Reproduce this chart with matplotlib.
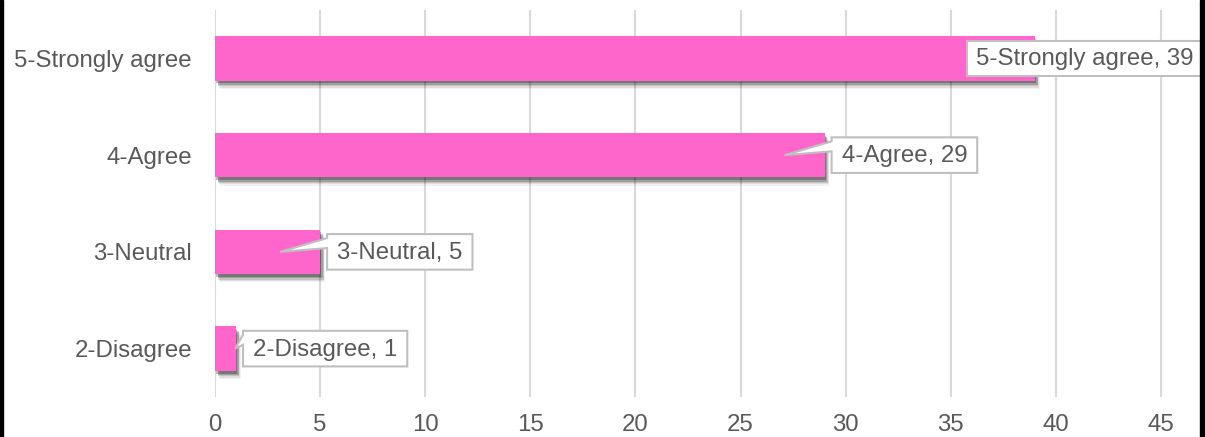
import matplotlib
matplotlib.use("Agg")
import matplotlib.pyplot as plt
from matplotlib.patches import Rectangle, Polygon
from matplotlib.transforms import IdentityTransform
import matplotlib.patheffects as pe

categories = ["2-Disagree", "3-Neutral", "4-Agree", "5-Strongly agree"]
values = [1, 5, 29, 39]
xticks = [0, 5, 10, 15, 20, 25, 30, 35, 40, 45]

BAR = "#FF66CC"
TXT = "#595959"
GRID = "#D9D9D9"
BOXEDGE = "#BFBFBF"

plt.rcParams['font.family'] = ['Liberation Sans', 'DejaVu Sans']

W, H = 1205, 437
fig = plt.figure(figsize=(W / 100, H / 100), dpi=100)
ax = fig.add_axes([215 / W, 40 / H, (1203 - 215) / W, (397 - 10) / H])

ypos = list(range(len(categories)))
shadow = [pe.SimplePatchShadow(offset=(3.5, -6), shadow_rgbFace='black', alpha=0.05),
          pe.SimplePatchShadow(offset=(3, -5), shadow_rgbFace='black', alpha=0.08),
          pe.SimplePatchShadow(offset=(2.5, -4), shadow_rgbFace='black', alpha=0.12),
          pe.SimplePatchShadow(offset=(2, -3), shadow_rgbFace='black', alpha=0.18),
          pe.SimplePatchShadow(offset=(1, -2), shadow_rgbFace='black', alpha=0.25),
          pe.Normal()]
bars = ax.barh(ypos, values, height=0.46, color=BAR, zorder=3, path_effects=shadow)

ax.set_xlim(0, 47)
ax.set_ylim(-0.5, len(categories) - 0.5)
ax.set_xticks(xticks)
ax.set_xticklabels([str(t) for t in xticks])
ax.set_yticks(ypos)
ax.set_yticklabels(categories)
ax.tick_params(axis='both', length=0, labelsize=17.3, labelcolor=TXT)
ax.tick_params(axis='x', pad=12)
ax.tick_params(axis='y', pad=16.5)
for s in ax.spines.values():
    s.set_visible(False)
ax.grid(axis='x', color=GRID, linewidth=1.5, zorder=0)
ax.set_axisbelow(True)

# Callout labels
fig.canvas.draw()
renderer = fig.canvas.get_renderer()
padx, pady = 10, 5
for i, (cat, v) in enumerate(zip(categories, values)):
    x0d, yc = ax.transData.transform((0, i))
    xe, _ = ax.transData.transform((v, i))
    t = ax.text(0, 0, f"{cat}, {v}", fontsize=17.3, color=TXT, va='center', ha='left',
                transform=IdentityTransform(), zorder=6, clip_on=False)
    bb = t.get_window_extent(renderer)
    tw, th = bb.width, 24 * 1.15
    bw = tw + 2 * padx
    bh = th + 2 * pady - 2
    left = xe + 7
    if left + bw > W - 1:
        left = W - 1 - bw
    top = yc + bh / 2
    bottom = yc - bh / 2
    right = left + bw
    t.set_position((left + padx, yc - 1))
    tip_x = xe - 40 if (xe - x0d) > 60 else xe - 1
    verts = [(left, top), (right, top), (right, bottom), (left, bottom)]
    if tip_x < left:
        verts += [(left, top - 14), (tip_x, yc), (left, top - 4)]
    poly = Polygon(verts, closed=True, facecolor='white', edgecolor=BOXEDGE,
                   linewidth=1.5, transform=IdentityTransform(), zorder=5, clip_on=False)
    ax.add_artist(poly)

# black edge strips
fig.add_artist(Rectangle((0, 0), 2.5 / W, 1, transform=fig.transFigure, color='black', zorder=10))
fig.add_artist(Rectangle((1200 / W, 0), 5 / W, 1, transform=fig.transFigure, color='black', zorder=10))

fig.savefig("out.png", dpi=100, facecolor='white')
